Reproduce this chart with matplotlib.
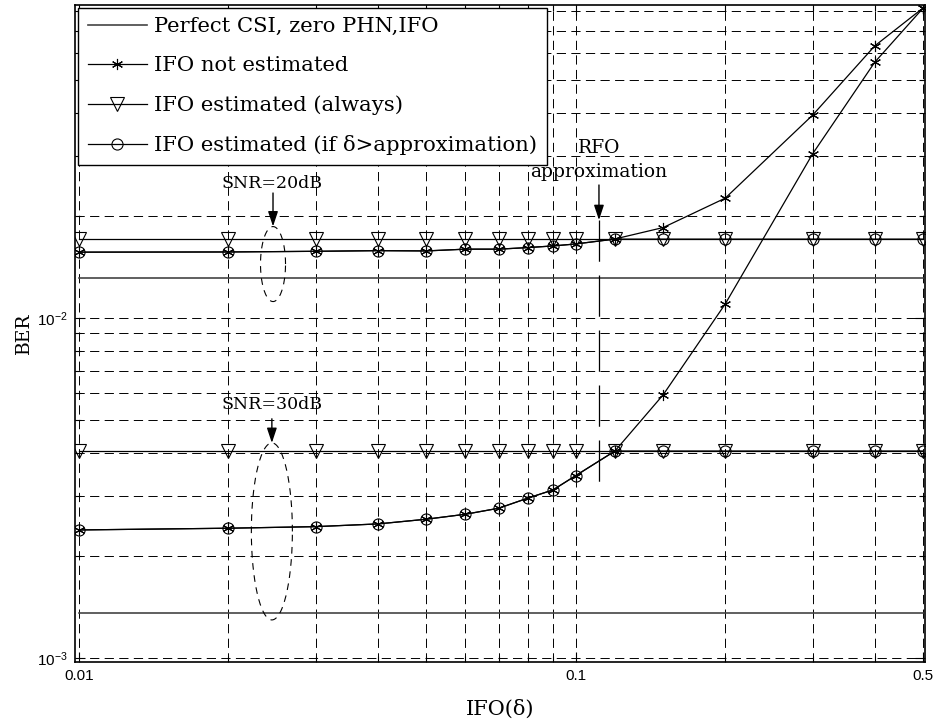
import numpy as np
import matplotlib
matplotlib.use('Agg')
import matplotlib.pyplot as plt
from matplotlib.ticker import LogLocator, NullFormatter, FixedLocator

#-- IFO values (x axis)
ifo = [0.01, 0.02, 0.03, 0.04, 0.05, 0.06, 0.07, 0.08, 0.09, 0.1,
       0.12, 0.15, 0.2, 0.3, 0.4, 0.5]

#-- SNR = 20 dB
perfect_20 = [0.01314] * len(ifo)
not_est_20 = [0.01561, 0.01563, 0.0157, 0.01577, 0.01574, 0.01593, 0.01593,
              0.0161, 0.01628, 0.0165, 0.01707, 0.01844, 0.0225, 0.0395,
              0.0631, 0.0815]
always_20 = [0.01705] * len(ifo)
cond_20 = not_est_20[:10] + always_20[10:]

#-- SNR = 30 dB
perfect_30 = [0.00136] * len(ifo)
not_est_30 = [0.002379, 0.002407, 0.002433, 0.002478, 0.002558, 0.002646,
              0.002756, 0.002949, 0.003119, 0.003436, 0.004062, 0.00594,
              0.01099, 0.0304, 0.0565, 0.0814]
always_30 = [0.00406] * len(ifo)
cond_30 = not_est_30[:10] + always_30[10:]

rfo_approx = 0.1114

labels = ['Perfect CSI, zero PHN,IFO', 'IFO not estimated',
          'IFO estimated (always)', 'IFO estimated (if \u03b4>approximation)']

SERIF = 'DejaVu Serif'
SANS = 'Liberation Sans'

#-------------------------------------------------------------------------------

def log_ellipse(ax, cx, cy, wdec, hdec):
    """dashed ellipse drawn in log-log space around (cx, cy)"""
    t = np.linspace(0, 2 * np.pi, 200)
    xs = 10 ** (np.log10(cx) + wdec * np.cos(t))
    ys = 10 ** (np.log10(cy) + hdec * np.sin(t))
    ax.plot(xs, ys, color='k', lw=0.8, dashes=(6, 5))


def down_arrow(ax, x, y_from, y_to):
    ax.annotate('', xy=(x, y_to), xytext=(x, y_from),
                arrowprops=dict(arrowstyle='-|>,head_length=0.9,head_width=0.3',
                                color='k', lw=1.0, shrinkA=0, shrinkB=0))


def main():
    fig = plt.figure(figsize=(9.36, 7.24), dpi=100)
    ax = fig.add_axes([0.0801, 0.0861, 0.9082, 0.9074])

    star = (6, 2, 0)
    common = dict(color='k', lw=0.9)

    ax.plot(ifo, perfect_20, color='#444444', lw=1.2, label=labels[0])
    ax.plot(ifo, not_est_20, marker=star, ms=8, mew=0.8, label=labels[1], **common)
    ax.plot(ifo, always_20, marker='v', ms=10.5, mfc='none', mew=0.8,
            label=labels[2], **common)
    ax.plot(ifo, cond_20, marker='o', ms=8, mfc='none', mew=0.8,
            label=labels[3], **common)

    ax.plot(ifo, perfect_30, color='#444444', lw=1.2)
    ax.plot(ifo, not_est_30, marker=star, ms=8, mew=0.8, **common)
    ax.plot(ifo, always_30, marker='v', ms=10.5, mfc='none', mew=0.8, **common)
    ax.plot(ifo, cond_30, marker='o', ms=8, mfc='none', mew=0.8, **common)

    ax.set_xscale('log')
    ax.set_yscale('log')
    ax.set_xlim(0.00982, 0.505)
    ax.set_ylim(0.000975, 0.0834)

    ax.xaxis.set_major_locator(FixedLocator([0.01, 0.1, 0.5]))
    ax.set_xticklabels(['0.01', '0.1', '0.5'], family=SANS, fontsize=11)
    ax.xaxis.set_minor_locator(LogLocator(base=10, subs=np.arange(2, 10)))
    ax.xaxis.set_minor_formatter(NullFormatter())
    ax.yaxis.set_major_locator(FixedLocator([1e-3, 1e-2]))
    ax.set_yticklabels([r'$\mathregular{10^{-3}}$', r'$\mathregular{10^{-2}}$'],
                       family=SANS, fontsize=11)
    ax.yaxis.set_minor_locator(LogLocator(base=10, subs=np.arange(2, 10)))
    ax.yaxis.set_minor_formatter(NullFormatter())

    ax.tick_params(which='both', direction='in', top=True, right=True)
    ax.tick_params(which='major', length=7, width=0.8, pad=5)
    ax.tick_params(which='minor', length=4, width=0.8)
    ax.grid(which='both', color='k', lw=0.7, dashes=(9.5, 5.5))
    for s in ax.spines.values():
        s.set_linewidth(1.2)

    ax.set_xlabel('IFO(\u03b4)', family=SERIF, fontsize=15, labelpad=12)
    ax.set_ylabel('BER', family=SERIF, fontsize=13.5, labelpad=3)

    #-- SNR markers
    log_ellipse(ax, 0.02459, 0.0144, 0.0252, 0.1103)
    log_ellipse(ax, 0.02446, 0.002355, 0.0413, 0.2603)
    down_arrow(ax, 0.02459, 0.0233, 10 ** (-1.7309))
    down_arrow(ax, 0.02446, 0.00505, 10 ** (-2.3677))
    ax.text(0.0245, 0.0249, 'SNR=20dB', family=SERIF, fontsize=12.5,
            ha='center', va='center')
    ax.text(0.0245, 0.00555, 'SNR=30dB', family=SERIF, fontsize=12.5,
            ha='center', va='center')

    #-- RFO approximation marker
    down_arrow(ax, rfo_approx, 0.0246, 0.0194)
    ax.plot([rfo_approx, rfo_approx], [0.0194, 0.00308], color='k', lw=0.9,
            dashes=(33, 11))
    ax.text(rfo_approx, 0.0291, 'RFO\napproximation', family=SERIF,
            fontsize=13.5, ha='center', va='center', linespacing=1.4)

    leg = ax.legend(loc='upper left', prop={'family': SERIF, 'size': 15.2},
                    numpoints=1, handlelength=2.8, handletextpad=0.35,
                    fancybox=False, framealpha=1, edgecolor='k',
                    borderaxespad=0.15, labelspacing=0.95, borderpad=0.45)
    leg.get_frame().set_linewidth(1.0)

    fig.savefig('out.png', dpi=100)

#-------------------------------------------------------------------------------

if __name__ == "__main__":
    main()
